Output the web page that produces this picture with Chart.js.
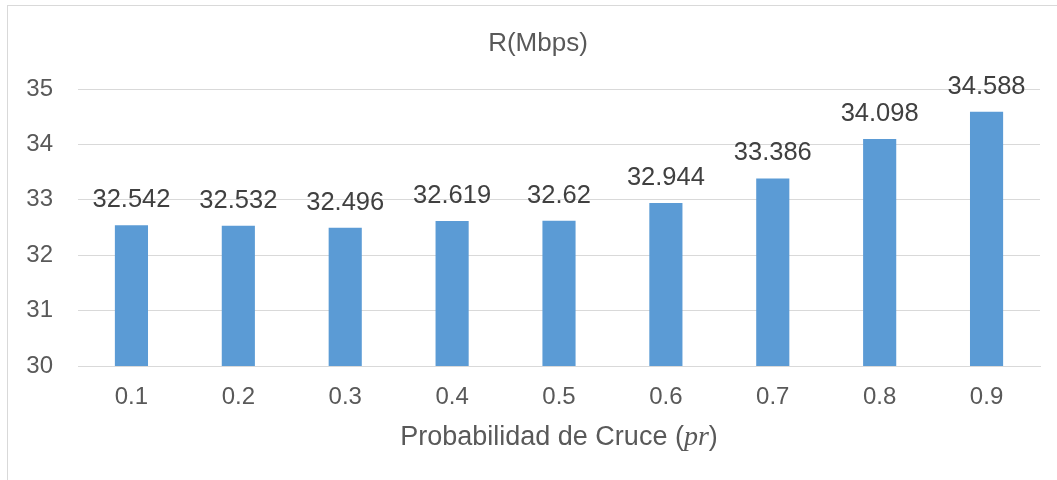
<!DOCTYPE html>
<html>
<head>
<meta charset="utf-8">
<script src="https://cdn.jsdelivr.net/npm/chart.js@4.4.1/dist/chart.umd.min.js"></script>
<style>
  html, body { margin: 0; padding: 0; background: #fff; }
  #wrap { width: 1057px; height: 480px; }
</style>
</head>
<body>
<div id="wrap"><canvas id="rChart"></canvas></div>
<script>
// chart data
const categories = ['0.1', '0.2', '0.3', '0.4', '0.5', '0.6', '0.7', '0.8', '0.9'];
const rateValues = [32.542, 32.532, 32.496, 32.619, 32.62, 32.944, 33.386, 34.098, 34.588];
const yTicks = [30, 31, 32, 33, 34, 35];
const chartTitle = 'R(Mbps)';

const FONT = "'Liberation Sans', Arial, sans-serif";

// light frame around the chart, like the exported picture
const framePlugin = {
    id: 'frame',
    beforeDraw(chart) {
        const ctx = chart.ctx;
        ctx.save();
        ctx.fillStyle = '#fff';
        ctx.fillRect(0, 0, chart.width, chart.height);
        ctx.strokeStyle = '#d9d9d9';
        ctx.lineWidth = 1;
        ctx.strokeRect(7.5, 5.5, chart.width + 20, chart.height + 20);
        ctx.restore();
    }
};

// value labels above each bar
const valueLabels = {
    id: 'valueLabels',
    afterDatasetsDraw(chart) {
        const ctx = chart.ctx;
        const meta = chart.getDatasetMeta(0);
        ctx.save();
        ctx.font = '25.5px ' + FONT;
        ctx.fillStyle = '#404040';
        ctx.textAlign = 'center';
        ctx.textBaseline = 'alphabetic';
        meta.data.forEach(function(bar, i) {
            ctx.fillText(String(rateValues[i]), bar.x, bar.y - 18);
        });
        ctx.restore();
    }
};

// chart title (centred on the frame) and x axis title with italic "pr"
const titles = {
    id: 'titles',
    afterDraw(chart) {
        const ctx = chart.ctx;
        const area = chart.chartArea;
        ctx.save();
        ctx.fillStyle = '#595959';
        ctx.font = '26px ' + FONT;
        ctx.textAlign = 'center';
        ctx.textBaseline = 'alphabetic';
        ctx.fillText(chartTitle, (7 + chart.width + 12) / 2, 51);

        const parts = [
            { t: 'Probabilidad de Cruce (', f: '27px ' + FONT },
            { t: 'pr', f: "italic 28px 'Liberation Serif', 'DejaVu Serif', serif" },
            { t: ')', f: '27px ' + FONT }
        ];
        ctx.textBaseline = 'middle';
        let total = 0;
        parts.forEach(function(p) { ctx.font = p.f; p.w = ctx.measureText(p.t).width; total += p.w; });
        let x = (area.left + area.right) / 2 - total / 2;
        ctx.textAlign = 'left';
        parts.forEach(function(p) { ctx.font = p.f; ctx.fillText(p.t, x, 438); x += p.w; });
        ctx.restore();
    }
};

new Chart(document.getElementById('rChart'), {
    type: 'bar',
    data: {
        labels: categories,
        datasets: [{
            label: chartTitle,
            data: rateValues,
            backgroundColor: '#5b9bd5',
            borderWidth: 0,
            barPercentage: 0.31,
            categoryPercentage: 1
        }]
    },
    options: {
        responsive: true,
        maintainAspectRatio: false,
        animation: false,
        layout: { padding: { left: 0, right: 17, top: 89, bottom: 0 } },
        plugins: {
            legend: { display: false },
            tooltip: { enabled: false },
            title: { display: false }
        },
        scales: {
            x: {
                grid: { display: false, drawTicks: false },
                border: { display: true, color: '#d9d9d9' },
                ticks: { color: '#595959', font: { family: FONT, size: 24 }, padding: 17 },
                afterFit(axis) { axis.height = 114; }
            },
            y: {
                min: yTicks[0],
                max: yTicks[yTicks.length - 1],
                afterBuildTicks(axis) { axis.ticks = yTicks.map(function(v) { return { value: v }; }); },
                grid: { color: '#d9d9d9', lineWidth: 1, drawTicks: false },
                border: { display: false },
                ticks: { color: '#595959', font: { family: FONT, size: 24 }, padding: 25 },
                afterFit(axis) { axis.width = 78; }
            }
        }
    },
    plugins: [framePlugin, valueLabels, titles]
});
</script>
</body>
</html>
